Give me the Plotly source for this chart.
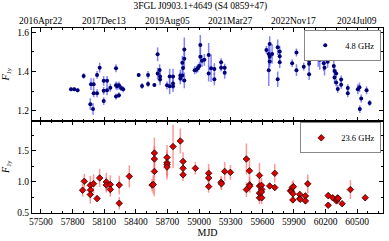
import plotly.graph_objects as go

# ---- data: 4.8 GHz ----
mjd_48 = [57785, 57816, 57848, 57905, 57968, 57975, 57994, 58000, 58000, 58032, 58032, 58057,
          58095, 58095, 58095, 58127, 58127, 58158, 58212, 58212, 58212, 58222, 58240, 58240,
          58260, 58280, 58427, 58459, 58516, 58516, 58576, 58607, 58607, 58626, 58630, 58630,
          58696, 58721, 58721, 58753, 58753, 58753, 58822, 58822, 58841, 58841, 58860, 58860,
          58860, 58848, 58958, 58975, 58987, 59003, 59012, 59012, 59028, 59050, 59091, 59091,
          59114, 59145, 59145, 59209, 59209, 59243, 59243, 59639, 59661, 59661, 59670, 59670,
          59670, 59693, 59746, 59746, 59765, 59765, 59765, 59883, 59924, 59924, 59993, 60044,
          60044, 60044, 60044, 60044, 60126, 60130, 60145, 60145, 60158, 60165, 60177, 60165,
          60183, 60190, 60209, 60220, 60220, 60278, 60285, 60285, 60301, 60301, 60316, 60348,
          60348, 60411, 60411, 60506, 60522, 60525, 60538, 60589, 60618]
flux_48 = [1.310, 1.310, 1.305, 1.378, 1.234, 1.336, 1.210, 1.336, 1.290, 1.290, 1.383, 1.420,
           1.353, 1.302, 1.250, 1.353, 1.305, 1.318, 1.417, 1.330, 1.273, 1.325, 1.330, 1.280,
           1.316, 1.310, 1.383, 1.327, 1.337, 1.383, 1.332, 1.488, 1.390, 1.408, 1.375, 1.360,
           1.330, 1.375, 1.325, 1.375, 1.326, 1.340, 1.380, 1.365, 1.380, 1.445, 1.513, 1.465,
           1.355, 1.418, 1.407, 1.410, 1.417, 1.428, 1.536, 1.476, 1.455, 1.460, 1.485, 1.390,
           1.417, 1.413, 1.361, 1.448, 1.420, 1.420, 1.394, 1.510, 1.490, 1.407, 1.540, 1.475,
           1.452, 1.490, 1.524, 1.361, 1.502, 1.478, 1.448, 1.443, 1.497, 1.407, 1.425, 1.497,
           1.485, 1.455, 1.440, 1.387, 1.573, 1.465, 1.460, 1.565, 1.523, 1.550, 1.560, 1.500,
           1.443, 1.420, 1.510, 1.510, 1.450, 1.429, 1.403, 1.370, 1.390, 1.344, 1.312, 1.360,
           1.333, 1.316, 1.290, 1.310, 1.320, 1.209, 1.263, 1.305, 1.240]
err_48 = [0.01, 0.01, 0.01, 0.015, 0.03, 0.03, 0.03, 0.03, 0.02, 0.02, 0.02, 0.025,
          0.025, 0.02, 0.02, 0.025, 0.025, 0.02, 0.02, 0.02, 0.015, 0.02, 0.02, 0.015,
          0.015, 0.015, 0.01, 0.015, 0.015, 0.02, 0.01, 0.035, 0.03, 0.03, 0.03, 0.03,
          0.02, 0.04, 0.04, 0.04, 0.03, 0.03, 0.03, 0.03, 0.03, 0.035, 0.06, 0.05,
          0.04, 0.03, 0.02, 0.02, 0.02, 0.02, 0.05, 0.05, 0.03, 0.03, 0.06, 0.04,
          0.07, 0.03, 0.03, 0.02, 0.02, 0.02, 0.03, 0.02, 0.04, 0.08, 0.04, 0.04,
          0.03, 0.05, 0.04, 0.04, 0.03, 0.03, 0.03, 0.02, 0.02, 0.03, 0.02, 0.03,
          0.03, 0.03, 0.03, 0.03, 0.04, 0.04, 0.05, 0.04, 0.05, 0.04, 0.04, 0.05,
          0.04, 0.04, 0.03, 0.03, 0.03, 0.03, 0.03, 0.03, 0.02, 0.02, 0.02, 0.02,
          0.02, 0.02, 0.02, 0.025, 0.025, 0.02, 0.02, 0.02, 0.015]

# ---- data: 23.6 GHz ----
mjd_236 = [57895, 57911, 57968, 57970, 57968, 57999, 58032, 58057, 58120, 58120, 58158, 58158,
           58243, 58243, 58338, 58554, 58565, 58576, 58576, 58576, 58696, 58696, 58696, 58696,
           58753, 58822, 58848, 58848, 58848, 58965, 59091, 59091, 59091, 59209, 59212, 59243,
           59297, 59449, 59449, 59478, 59480, 59480, 59573, 59573, 59573, 59573, 59592, 59595,
           59595, 59592, 59670, 59718, 59718, 59867, 59875, 59885, 59890, 59890, 59895, 59955,
           59955, 59960, 60009, 60009, 60031, 60225, 60225, 60268, 60304, 60310, 60315, 60320,
           60357, 60436, 60576]
flux_236 = [0.866, 1.010, 0.946, 0.870, 0.797, 0.973, 0.732, 1.064, 1.000, 0.950, 0.958, 0.880,
            0.950, 0.657, 1.090, 0.950, 0.960, 1.465, 1.370, 1.170, 1.395, 1.310, 1.280, 1.240,
            1.570, 1.660, 1.330, 1.220, 1.115, 1.220, 1.140, 1.065, 0.925, 0.995, 0.970, 1.170,
            1.155, 1.370, 0.877, 1.180, 0.955, 0.930, 1.105, 0.935, 0.820, 0.745, 0.945, 0.880,
            0.745, 0.840, 0.935, 1.140, 0.910, 0.860, 0.850, 0.910, 0.810, 0.710, 0.925, 0.800,
            0.730, 0.720, 0.775, 0.695, 0.970, 0.780, 0.625, 0.745, 0.695, 0.720, 0.745, 0.735,
            0.650, 0.877, 0.745]
err_236 = [0.10, 0.12, 0.15, 0.12, 0.15, 0.15, 0.05, 0.15, 0.15, 0.12, 0.15, 0.12,
           0.15, 0.10, 0.18, 0.10, 0.15, 0.25, 0.20, 0.40, 0.20, 0.20, 0.20, 0.20,
           0.35, 0.20, 0.15, 0.15, 0.10, 0.10, 0.15, 0.15, 0.10, 0.10, 0.10, 0.15,
           0.12, 0.25, 0.12, 0.20, 0.12, 0.10, 0.20, 0.15, 0.10, 0.10, 0.12, 0.10,
           0.10, 0.10, 0.05, 0.15, 0.05, 0.05, 0.05, 0.10, 0.10, 0.05, 0.10, 0.05,
           0.05, 0.03, 0.05, 0.05, 0.15, 0.05, 0.05, 0.05, 0.03, 0.03, 0.03, 0.03,
           0.03, 0.15, 0.05]

date_ticks = [57500, 58100, 58700, 59300, 59900, 60500]
date_labels = ["2016Apr22", "2017Dec13", "2019Aug05", "2021Mar27", "2022Nov17", "2024Jul09"]
bottom_ticks = [57500, 57800, 58100, 58400, 58700, 59000, 59300, 59600, 59900, 60200, 60500]

x_range = [57415, 60745]
FONT = "Liberation Serif"

fig = go.Figure()

fig.add_trace(go.Scatter(
    x=mjd_48, y=flux_48, mode="markers", name="4.8 GHz",
    marker=dict(color="#00007a", size=4, symbol="circle"),
    error_y=dict(type="data", array=err_48, color="rgba(90,90,255,0.75)", thickness=1.5, width=0),
    xaxis="x", yaxis="y", legend="legend"))

fig.add_trace(go.Scatter(
    x=mjd_236, y=flux_236, mode="markers", name="23.6 GHz",
    marker=dict(color="#dd0000", size=5, symbol="diamond", line=dict(color="#2a0000", width=0.8)),
    error_y=dict(type="data", array=err_236, color="rgba(255,110,110,0.7)", thickness=1.5, width=0),
    xaxis="x2", yaxis="y2", legend="legend2"))

axis_common = dict(showline=True, linecolor="black", linewidth=1, mirror="allticks",
                   ticks="inside", ticklen=4, tickcolor="black", showgrid=False, zeroline=False,
                   automargin=False,
                   tickfont=dict(family=FONT, size=9.5, color="black"))

# date labels along the top axis, placed at the axis' own tick values
for tv, tl in zip(date_ticks, date_labels):
    fig.add_annotation(x=tv, y=1.0, xref="x", yref="paper", text=tl, showarrow=False,
                       xanchor="center", yanchor="bottom", yshift=0,
                       font=dict(family=FONT, size=9.5, color="black"))

fig.update_layout(
    width=389, height=241, autosize=False,
    margin=dict(l=32, r=6, t=28, b=28, pad=0),
    paper_bgcolor="white", plot_bgcolor="white",
    font=dict(family=FONT, size=9.5, color="black"),
    title=dict(text="3FGL J0903.1+4649 (S4 0859+47)", x=0.515, xanchor="center",
               yref="container", y=1.0, yanchor="top", pad=dict(t=2, b=0),
               font=dict(family=FONT, size=9.5), automargin=False),
    showlegend=True,
    xaxis=dict(domain=[0, 1], anchor="y", side="top", range=x_range,
               tickmode="array", tickvals=date_ticks, showticklabels=False,
               minor=dict(ticks="inside", dtick=100, tick0=57500, ticklen=2, tickcolor="black"),
               **axis_common),
    yaxis=dict(domain=[0.5, 1], anchor="x", range=[1.151, 1.622],
               tickmode="array", tickvals=[1.2, 1.4, 1.6], ticktext=["1.2", "1.4", "1.6"],
               minor=dict(ticks="inside", dtick=0.1, tick0=1.2, ticklen=2, tickcolor="black"),
               title=dict(text="<i>F</i><sub>Jy</sub>", standoff=5, font=dict(family=FONT, size=10)),
               **axis_common),
    xaxis2=dict(domain=[0, 1], anchor="y2", range=x_range,
                tickmode="array", tickvals=bottom_ticks, ticktext=[str(t) for t in bottom_ticks],
                minor=dict(ticks="inside", dtick=100, tick0=57500, ticklen=2, tickcolor="black"),
                title=dict(text="MJD", standoff=1, font=dict(family=FONT, size=10)),
                **axis_common),
    yaxis2=dict(domain=[0, 0.5], anchor="x2", range=[0.5, 1.99],
                tickmode="array", tickvals=[0.5, 1.0, 1.5], ticktext=["0.5", "1.0", "1.5"],
                minor=dict(ticks="inside", dtick=0.25, tick0=0.5, ticklen=2, tickcolor="black"),
                title=dict(text="<i>F</i><sub>Jy</sub>", standoff=5, font=dict(family=FONT, size=10)),
                **axis_common),
    legend=dict(x=0.995, y=0.99, xanchor="right", yanchor="top", bgcolor="white",
                bordercolor="#888888", borderwidth=1, font=dict(family=FONT, size=8.5),
                itemwidth=30, tracegroupgap=0),
    legend2=dict(x=0.995, y=0.49, xanchor="right", yanchor="top", bgcolor="white",
                 bordercolor="#888888", borderwidth=1, font=dict(family=FONT, size=8.5),
                 itemwidth=30, tracegroupgap=0),
)

fig.write_html("out.html", config={"staticPlot": True, "displayModeBar": False},
               post_script="document.body.style.margin='0px';document.body.style.overflow='hidden';")
